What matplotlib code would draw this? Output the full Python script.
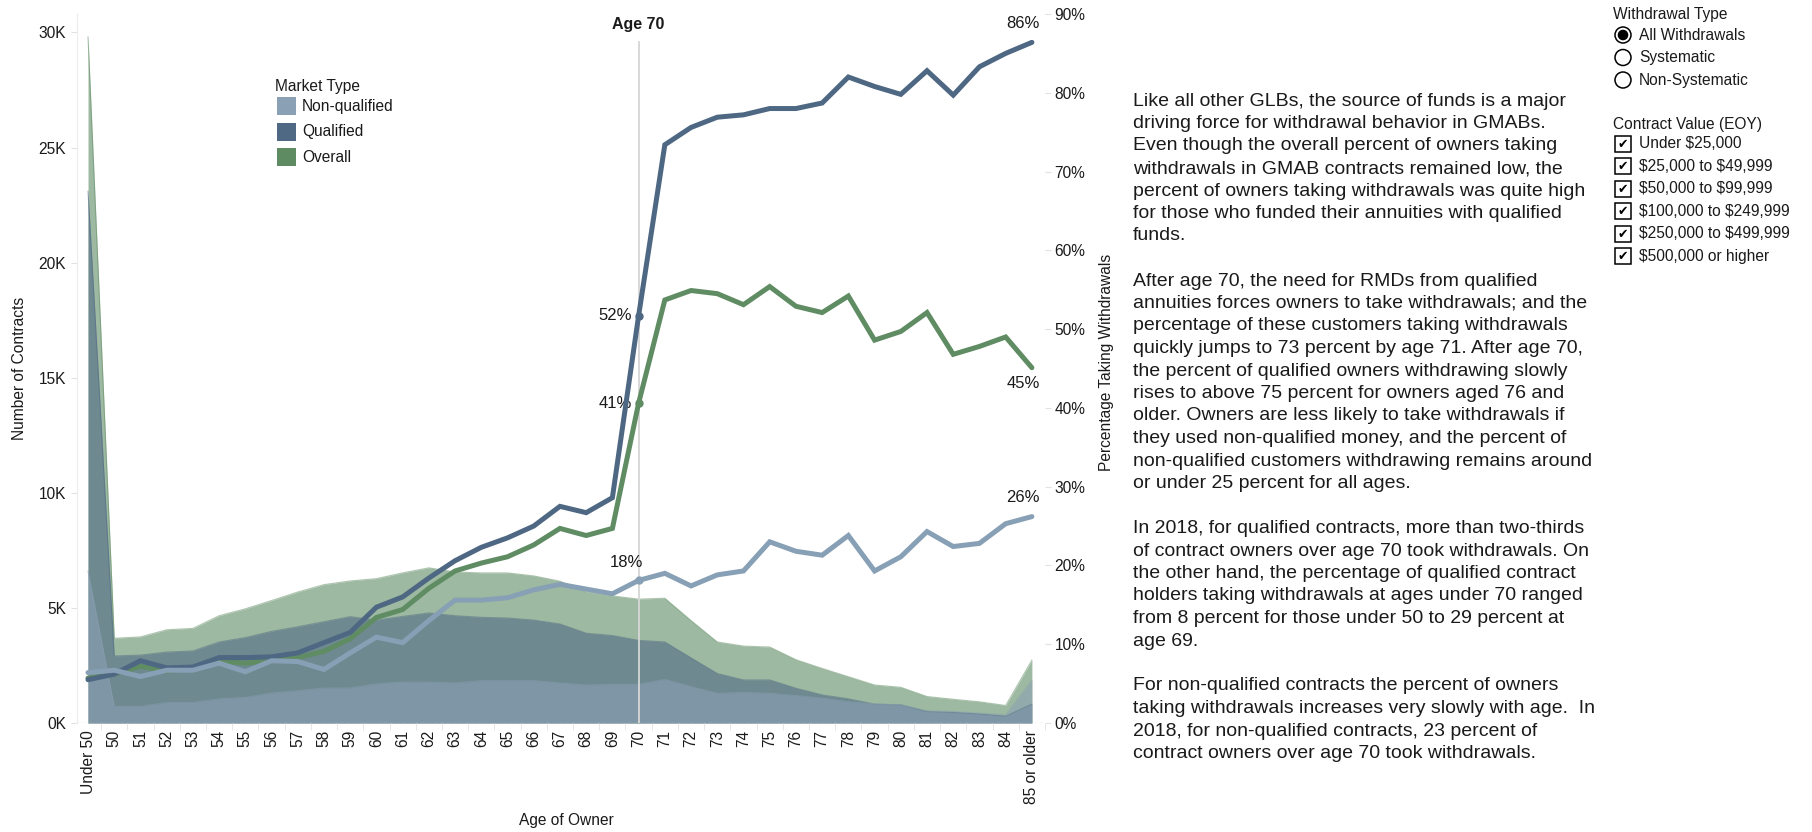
import numpy as np
import matplotlib
matplotlib.use("Agg")
import matplotlib.pyplot as plt
from matplotlib.patches import Rectangle, Circle
from matplotlib.ticker import FuncFormatter, FixedLocator

plt.rcParams['font.family'] = ['Liberation Sans', 'DejaVu Sans']

ages = ["Under 50"] + [str(a) for a in range(50, 85)] + ["85 or older"]

# contracts, in thousands
cnt_overall = [29.8, 3.68, 3.74, 4.05, 4.11, 4.66, 4.96, 5.32, 5.69, 6.01, 6.17, 6.27, 6.52, 6.74,
               6.56, 6.52, 6.52, 6.39, 6.16, 5.70, 5.52, 5.38, 5.42, 4.45, 3.52, 3.34, 3.30, 2.75,
               2.37, 2.01, 1.65, 1.55, 1.15, 1.03, 0.92, 0.76, 2.73]
cnt_qual = [23.1, 2.91, 2.95, 3.08, 3.13, 3.52, 3.71, 3.98, 4.18, 4.40, 4.62, 4.47, 4.63, 4.78,
            4.66, 4.59, 4.56, 4.47, 4.30, 3.90, 3.80, 3.59, 3.52, 2.83, 2.15, 1.87, 1.87, 1.51,
            1.22, 1.05, 0.82, 0.79, 0.50, 0.46, 0.39, 0.29, 0.82]
cnt_nonqual = [6.6, 0.72, 0.72, 0.89, 0.89, 1.05, 1.11, 1.30, 1.40, 1.52, 1.52, 1.70, 1.78, 1.78,
               1.74, 1.84, 1.84, 1.84, 1.74, 1.65, 1.68, 1.68, 1.89, 1.58, 1.29, 1.33, 1.29, 1.19,
               1.08, 0.93, 0.83, 0.79, 0.53, 0.50, 0.43, 0.36, 1.85]

# percent taking withdrawals
pct_qual = [5.5, 6.2, 7.9, 7.0, 7.1, 8.3, 8.3, 8.4, 8.9, 10.2, 11.5, 14.7, 16.0, 18.4, 20.6, 22.3,
            23.5, 25.0, 27.5, 26.7, 28.6, 51.7, 73.4, 75.6, 76.9, 77.2, 78.0, 78.0, 78.7, 82.0,
            80.8, 79.8, 82.8, 79.7, 83.3, 85.0, 86.4]
pct_overall = [5.7, 6.2, 7.2, 6.6, 7.0, 7.9, 7.6, 7.9, 8.3, 9.1, 10.7, 13.4, 14.4, 17.1, 19.3, 20.3,
               21.1, 22.6, 24.7, 23.8, 24.7, 40.6, 53.7, 54.9, 54.5, 53.1, 55.4, 52.9, 52.1, 54.2,
               48.6, 49.7, 52.1, 46.8, 47.8, 49.0, 45.1]
pct_nonqual = [6.4, 6.7, 5.9, 6.7, 6.7, 7.6, 6.5, 7.9, 7.8, 6.8, 8.9, 10.9, 10.2, 13.0, 15.6, 15.6,
               15.9, 16.9, 17.6, 17.0, 16.4, 18.1, 19.0, 17.4, 18.8, 19.3, 23.0, 21.8, 21.3, 23.8,
               19.3, 21.1, 24.3, 22.4, 22.8, 25.3, 26.2]

paragraphs = [
    "Like all other GLBs, the source of funds is a major\n"
    "driving force for withdrawal behavior in GMABs.\n"
    "Even though the overall percent of owners taking\n"
    "withdrawals in GMAB contracts remained low, the\n"
    "percent of owners taking withdrawals was quite high\n"
    "for those who funded their annuities with qualified\n"
    "funds.",
    "After age 70, the need for RMDs from qualified\n"
    "annuities forces owners to take withdrawals; and the\n"
    "percentage of these customers taking withdrawals\n"
    "quickly jumps to 73 percent by age 71. After age 70,\n"
    "the percent of qualified owners withdrawing slowly\n"
    "rises to above 75 percent for owners aged 76 and\n"
    "older. Owners are less likely to take withdrawals if\n"
    "they used non-qualified money, and the percent of\n"
    "non-qualified customers withdrawing remains around\n"
    "or under 25 percent for all ages.",
    "In 2018, for qualified contracts, more than two-thirds\n"
    "of contract owners over age 70 took withdrawals. On\n"
    "the other hand, the percentage of qualified contract\n"
    "holders taking withdrawals at ages under 70 ranged\n"
    "from 8 percent for those under 50 to 29 percent at\n"
    "age 69.",
    "For non-qualified contracts the percent of owners\n"
    "taking withdrawals increases very slowly with age.  In\n"
    "2018, for non-qualified contracts, 23 percent of\n"
    "contract owners over age 70 took withdrawals.",
]

withdrawal_types = ["All Withdrawals", "Systematic", "Non-Systematic"]
contract_values = ["Under $25,000", "$25,000 to $49,999", "$50,000 to $99,999",
                   "$100,000 to $249,999", "$250,000 to $499,999", "$500,000 or higher"]

c_nq = "#8aa0b4"
c_q = "#4f6985"
c_all = "#5e8b62"
c_nq_line = "#87a0b5"
c_q_line = "#4e6783"
c_all_line = "#5f8c63"
txt = "#1a1a1a"

W, H = 1812, 832
fig = plt.figure(figsize=(W / 100, H / 100), dpi=100)
ax = fig.add_axes([77 / W, (H - 723) / H, (1045 - 77) / W, (723 - 14) / H])
ax2 = ax.twinx()

x = np.arange(len(ages))

# areas (overlapping, not stacked)
for vals, col in [(cnt_overall, c_all), (cnt_qual, c_q), (cnt_nonqual, c_nq)]:
    v = np.array(vals) * 1000
    ax.fill_between(x, 0, v, color=col, alpha=0.6, lw=0)
    ax.plot(x, v, color=col, alpha=0.5, lw=0.8)

ax.axhline(0, color="#c8c8c8", ls=(0, (3, 2)), lw=0.9, zorder=3)
ax.axvline(21, ymin=0, ymax=0.96, color="#d6d6d6", lw=1.3, zorder=4)

ax.set_xlim(-0.42, 36.5)
ax.set_ylim(0, 30800)
ax2.set_ylim(0, 0.9)

# lines
for vals, col in [(pct_overall, c_all_line), (pct_qual, c_q_line), (pct_nonqual, c_nq_line)]:
    p = np.array(vals) / 100
    ax2.plot(x, p, color=col, lw=3.6, solid_joinstyle="miter", solid_capstyle="round", zorder=5)
    ax2.plot(x[21], p[21], "o", color=col, ms=5, zorder=6)

ann = dict(textcoords="offset points", fontsize=12, color=txt)
ax2.annotate("52%", (21, pct_qual[21] / 100), xytext=(-5, 0), ha="right", va="center", **ann)
ax2.annotate("41%", (21, pct_overall[21] / 100), xytext=(-5, 0), ha="right", va="center", **ann)
ax2.annotate("18%", (21, pct_nonqual[21] / 100), xytext=(3, 13), ha="right", va="center", **ann)
ax2.annotate("86%", (36, pct_qual[36] / 100), xytext=(-6.5, 13.5), ha="center", va="center", **ann)
ax2.annotate("45%", (36, pct_overall[36] / 100), xytext=(-6.5, -11.5), ha="center", va="center", **ann)
ax2.annotate("26%", (36, pct_nonqual[36] / 100), xytext=(-6.5, 13.5), ha="center", va="center", **ann)

ax2.text(21, 0.985, "Age 70", transform=ax.get_xaxis_transform(), ha="center", va="center",
         fontsize=11.5, fontweight="bold", color=txt)

# axes styling
ax.set_xticks(x)
ax.set_xticklabels(ages, rotation=90, fontsize=11.2, color=txt)
ax.xaxis.set_minor_locator(FixedLocator(np.arange(-0.5, 37, 1)))
ax.tick_params(axis="x", which="major", length=0, pad=5)
ax.tick_params(axis="x", which="minor", length=5, color="#e2e2e2")
ax.set_yticks(np.arange(0, 30001, 5000))
ax.yaxis.set_major_formatter(FuncFormatter(lambda v, _: f"{int(v / 1000)}K"))
ax.tick_params(axis="y", length=4, color="#e2e2e2", pad=4, labelsize=11.2, labelcolor=txt)
ax2.set_yticks(np.arange(0, 0.91, 0.1))
ax2.yaxis.set_major_formatter(FuncFormatter(lambda v, _: f"{int(round(v * 100))}%"))
ax2.tick_params(axis="y", length=4, color="#e2e2e2", pad=3, labelsize=11.2, labelcolor=txt)

for a in (ax, ax2):
    for s in a.spines.values():
        s.set_visible(False)
ax.spines["left"].set_visible(True)
ax.spines["left"].set_color("#ececec")

# overlay in pixel coordinates for free text and filter panel
ov = fig.add_axes([0, 0, 1, 1], zorder=10)
ov.set_xlim(0, W)
ov.set_ylim(H, 0)
ov.axis("off")
ov.patch.set_alpha(0)

ov.text(20, 368, "Number of Contracts", rotation=90, ha="center", va="center", fontsize=11.2, color=txt)
ov.text(1107, 362, "Percentage Taking Withdrawals", rotation=90, ha="center", va="center",
        fontsize=11.2, color=txt)
ov.text(566, 820, "Age of Owner", ha="center", va="center", fontsize=11.2, color=txt)

# legend
ov.text(275, 86, "Market Type", ha="left", va="center", fontsize=11.2, color=txt)
for i, (lab, col) in enumerate([("Non-qualified", c_nq), ("Qualified", c_q), ("Overall", c_all)]):
    yc = 106 + i * 25.5
    ov.add_patch(Rectangle((277, yc - 9), 19, 18, color=col, lw=0))
    ov.text(302, yc, lab, ha="left", va="center", fontsize=11.2, color=txt)

# commentary
y0 = 101
line = 0
for para in paragraphs:
    for ln in para.split("\n"):
        ov.text(1133, y0 + line * 22.5, ln, ha="left", va="center", fontsize=14, color=txt)
        line += 1
    line += 1

# filter panel
ov.text(1613, 15, "Withdrawal Type", ha="left", va="center", fontsize=11.2, color=txt)
for i, lab in enumerate(withdrawal_types):
    yc = 35 + i * 22.5
    ov.add_patch(Circle((1623, yc), 8, fill=False, ec="black", lw=1.1))
    if i == 0:
        ov.add_patch(Circle((1623, yc), 4.6, color="black"))
    ov.text(1639, yc, lab, ha="left", va="center", fontsize=11.2, color=txt)

ov.text(1613, 124, "Contract Value (EOY)", ha="left", va="center", fontsize=11.2, color=txt)
for i, lab in enumerate(contract_values):
    yc = 144 + i * 22.4
    ov.add_patch(Rectangle((1615, yc - 8), 16, 16, fill=False, ec="black", lw=1.1))
    ov.text(1623, yc + 0.5, "\u2714", ha="center", va="center", fontsize=9, color="black",
            family="DejaVu Sans")
    ov.text(1639, yc, lab, ha="left", va="center", fontsize=11.2, color=txt, parse_math=False)

fig.savefig("out.png", dpi=100)
